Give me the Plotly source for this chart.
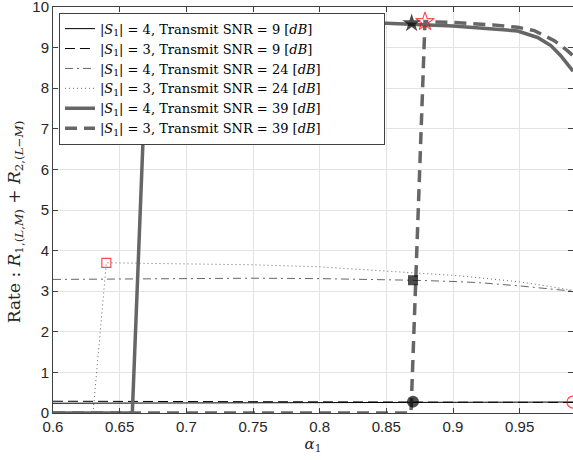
import plotly.graph_objects as go

# ---------------- data ----------------
alpha_s4_snr9 = [0.6, 0.75, 0.87, 0.99]
rate_s4_snr9 = [0.24, 0.25, 0.27, 0.27]

alpha_s3_snr9 = [0.6, 0.75, 0.87, 0.99]
rate_s3_snr9 = [0.29, 0.28, 0.27, 0.26]

alpha_s4_snr24 = [0.6, 0.65, 0.7, 0.75, 0.8, 0.85, 0.87, 0.9, 0.92, 0.95, 0.97, 0.99]
rate_s4_snr24 = [3.29, 3.30, 3.31, 3.32, 3.31, 3.29, 3.27, 3.24, 3.21, 3.13, 3.07, 3.0]

alpha_s3_snr24 = [0.6, 0.63, 0.64, 0.7, 0.75, 0.8, 0.85, 0.87, 0.9, 0.92, 0.95, 0.97, 0.99]
rate_s3_snr24 = [0.0, 0.0, 3.7, 3.68, 3.65, 3.6, 3.5, 3.45, 3.39, 3.33, 3.23, 3.13, 3.02]

alpha_s4_snr39 = [0.6, 0.65, 0.6595, 0.671, 0.7, 0.75, 0.8, 0.85, 0.87, 0.9, 0.93,
                  0.9485, 0.9634, 0.9734, 0.9808, 0.9871, 0.99]
rate_s4_snr39 = [0.0, 0.0, 0.0, 9.63, 9.63, 9.63, 9.62, 9.6, 9.58, 9.53, 9.46,
                 9.41, 9.25, 9.05, 8.8, 8.55, 8.42]

alpha_s3_snr39 = [0.6, 0.7, 0.8, 0.8685, 0.879, 0.9, 0.93, 0.9485, 0.961, 0.976, 0.986, 0.99]
rate_s3_snr39 = [0.0, 0.0, 0.0, 0.0, 9.64, 9.62, 9.56, 9.5, 9.42, 9.17, 8.92, 8.8]

# optimum markers (|S1|=4 black filled, |S1|=3 red open)
opt_s4_alpha = [0.869, 0.87, 0.87]
opt_s4_rate = [9.6, 3.27, 0.28]
opt_s3_alpha = [0.879, 0.64, 0.99]
opt_s3_rate = [9.64, 3.7, 0.27]

x_ticks = [0.6, 0.65, 0.7, 0.75, 0.8, 0.85, 0.9, 0.95]
x_tick_text = ["0.6", "0.65", "0.7", "0.75", "0.8", "0.85", "0.9", "0.95"]
y_ticks = [0, 1, 2, 3, 4, 5, 6, 7, 8, 9, 10]

legend_names = [
    "|<i>S</i><sub>1</sub>| = 4, Transmit SNR = 9 [<i>dB</i>]",
    "|<i>S</i><sub>1</sub>| = 3, Transmit SNR = 9 [<i>dB</i>]",
    "|<i>S</i><sub>1</sub>| = 4, Transmit SNR = 24 [<i>dB</i>]",
    "|<i>S</i><sub>1</sub>| = 3, Transmit SNR = 24 [<i>dB</i>]",
    "|<i>S</i><sub>1</sub>| = 4, Transmit SNR = 39 [<i>dB</i>]",
    "|<i>S</i><sub>1</sub>| = 3, Transmit SNR = 39 [<i>dB</i>]",
]
y_title = "Rate : <i>R</i><sub>1,(<i>L</i>,<i>M</i>)</sub> + <i>R</i><sub>2,(<i>L</i>−<i>M</i>)</sub>"
x_title = "<i>α</i><sub>1</sub>"

# ---------------- figure ----------------
GREY = "#666666"
fig = go.Figure()

fig.add_trace(go.Scatter(x=alpha_s4_snr9, y=rate_s4_snr9, mode="lines", name=legend_names[0],
                         line=dict(color="black", width=1)))
fig.add_trace(go.Scatter(x=alpha_s3_snr9, y=rate_s3_snr9, mode="lines", name=legend_names[1],
                         line=dict(color="black", width=1, dash="10px,5px")))
fig.add_trace(go.Scatter(x=alpha_s4_snr24, y=rate_s4_snr24, mode="lines", name=legend_names[2],
                         line=dict(color=GREY, width=1, dash="8px,4px,2px,4px")))
fig.add_trace(go.Scatter(x=alpha_s3_snr24, y=rate_s3_snr24, mode="lines", name=legend_names[3],
                         line=dict(color=GREY, width=1, dash="1px,3px")))
fig.add_trace(go.Scatter(x=alpha_s4_snr39, y=rate_s4_snr39, mode="lines", name=legend_names[4],
                         line=dict(color=GREY, width=3.5)))
fig.add_trace(go.Scatter(x=alpha_s3_snr39, y=rate_s3_snr39, mode="lines", name=legend_names[5],
                         line=dict(color=GREY, width=3.5, dash="12px,7px")))

fig.add_trace(go.Scatter(x=opt_s4_alpha, y=opt_s4_rate, mode="markers", showlegend=False,
                         marker=dict(symbol=["star", "square", "circle"], size=[14, 10, 12],
                                     color="black", line=dict(width=0))))
fig.add_trace(go.Scatter(x=opt_s3_alpha, y=opt_s3_rate, mode="markers", showlegend=False,
                         marker=dict(symbol=["star-open", "square-open", "circle-open"],
                                     size=[14, 9, 12], color="red", line=dict(width=1.2))))

axis_common = dict(
    showline=True, linecolor="#404040", linewidth=1, mirror="ticks",
    ticks="inside", ticklen=5, tickcolor="#404040",
    showgrid=True, gridcolor="#e3e3e3", gridwidth=1, zeroline=False,
    automargin=False, ticklabeloverflow="allow",
    tickfont=dict(family="Liberation Sans, Arial, sans-serif", size=15, color="#262626"),
)

fig.update_layout(
    width=573, height=460, autosize=False,
    margin=dict(l=53, r=0, t=7, b=47, pad=0),
    paper_bgcolor="white", plot_bgcolor="white",
    xaxis=dict(range=[0.6, 0.99], tickvals=x_ticks, ticktext=x_tick_text,
               title=dict(text=x_title, standoff=4,
                          font=dict(family="DejaVu Serif, serif", size=15, color="#262626")),
               **axis_common),
    yaxis=dict(range=[0, 10.0005], tickvals=y_ticks, **axis_common),
    legend=dict(x=0.0115, y=0.986, xanchor="left", yanchor="top", orientation="h",
                bgcolor="white", bordercolor="#404040", borderwidth=1,
                font=dict(family="DejaVu Serif, serif", size=13, color="black"),
                tracegroupgap=0, itemwidth=30, entrywidth=279, entrywidthmode="pixels"),
    showlegend=True,
    annotations=[dict(text=y_title, textangle=-90, xref="paper", yref="paper",
                      x=-0.073, y=0.47, xanchor="center", yanchor="middle", showarrow=False,
                      font=dict(family="DejaVu Serif, serif", size=17, color="#262626"))],
)

fig.write_html("out.html", post_script="document.body.style.margin='0';",
               config={"displayModeBar": False})
